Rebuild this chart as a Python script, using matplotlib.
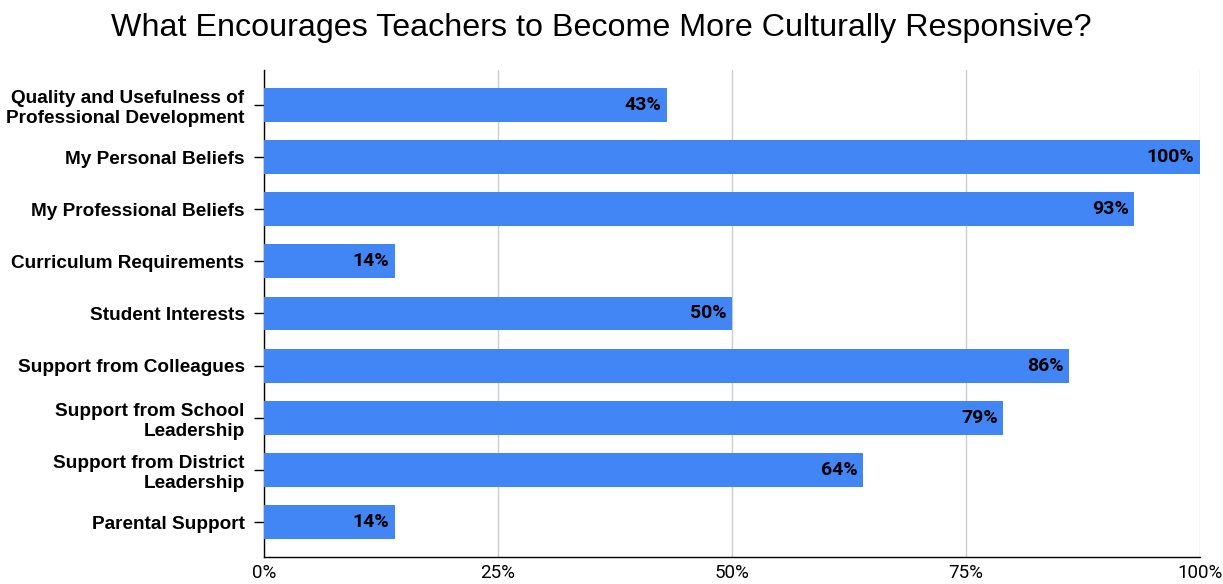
import matplotlib
matplotlib.use("Agg")
import matplotlib.pyplot as plt
from matplotlib.ticker import FuncFormatter

categories = [
    "Quality and Usefulness of\nProfessional Development",
    "My Personal Beliefs",
    "My Professional Beliefs",
    "Curriculum Requirements",
    "Student Interests",
    "Support from Colleagues",
    "Support from School\nLeadership",
    "Support from District\nLeadership",
    "Parental Support",
]
values = [43, 100, 93, 14, 50, 86, 79, 64, 14]
xticks = [0, 25, 50, 75, 100]

plt.rcParams['font.family'] = ['Roboto', 'DejaVu Sans']
arial = ['Liberation Sans', 'DejaVu Sans']

fig = plt.figure(figsize=(12.23, 5.84), dpi=100)
ax = fig.add_axes([0.2159, 0.0462, 0.7653, 0.834])

pos = list(range(len(categories)))
ax.barh(pos, values, height=0.65, color="#4285F4", zorder=3)
for p, v in zip(pos, values):
    ax.text(v - 0.6, p, f"{v}%", ha="right", va="center",
            fontsize=14, fontweight="bold", color="black", zorder=4)

ax.set_ylim(len(categories) - 1 + 0.67, -0.67)
ax.set_xlim(0, 100)
ax.set_yticks(pos)
ax.set_yticklabels(categories, fontsize=13.7, fontweight="bold", family=arial,
                   linespacing=1.25)
ax.set_xticks(xticks)
ax.xaxis.set_major_formatter(FuncFormatter(lambda x, _: f"{int(x)}%"))
ax.tick_params(axis="x", length=0, labelsize=13.5, pad=5)
ax.tick_params(axis="y", direction="inout", length=14, width=1, color="black", pad=7)
ax.grid(axis="x", color="#cccccc", linewidth=1, zorder=0)
for s in ["top", "right"]:
    ax.spines[s].set_visible(False)
for s in ["left", "bottom"]:
    ax.spines[s].set_color("black")
    ax.spines[s].set_linewidth(1)

fig.text(0.492, 0.952, "What Encourages Teachers to Become More Culturally Responsive?",
         ha="center", va="center", fontsize=23.2, family=arial)

fig.savefig("out.png", dpi=100)
